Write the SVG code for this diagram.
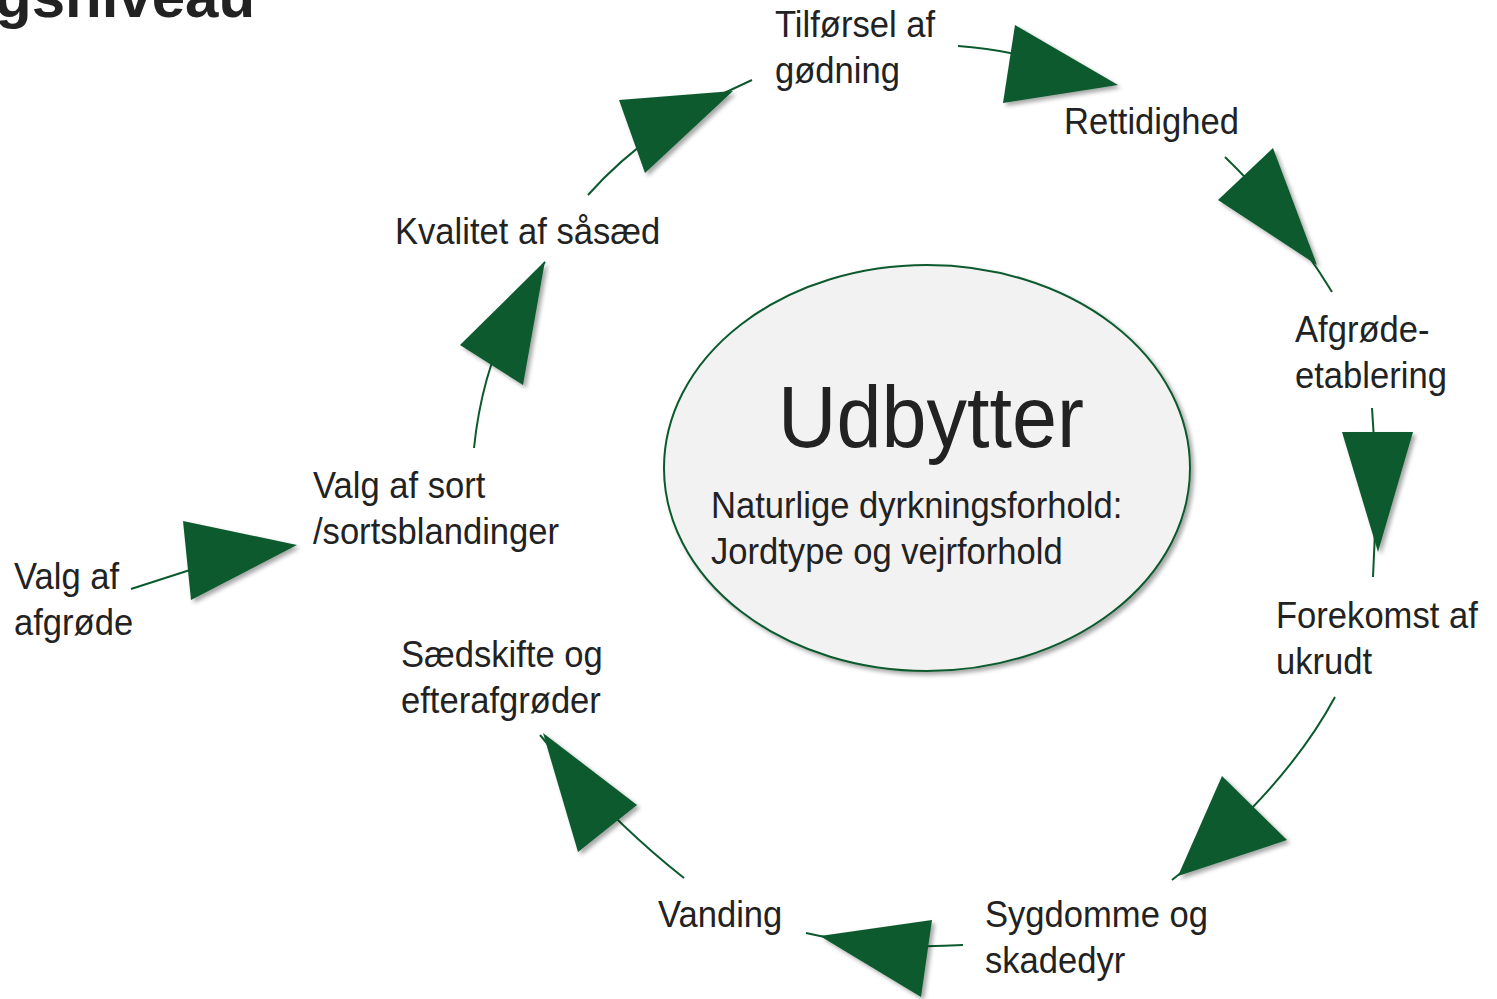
<svg xmlns="http://www.w3.org/2000/svg" width="1497" height="999" viewBox="0 0 1497 999">
<style>
.lbl{font-family:"Liberation Sans",Arial,sans-serif;font-size:37px;fill:#222}
.big{font-family:"Liberation Sans",Arial,sans-serif;font-size:88px;fill:#222}
.ttl{font-family:"Liberation Sans",Arial,sans-serif;font-size:60px;font-weight:bold;fill:#222}
.con{fill:none;stroke:#0b5a2e;stroke-width:2}
.head{fill:#0b5a2e;filter:url(#sh)}
</style>
<defs>
<filter id="sh" x="-30%" y="-30%" width="160%" height="160%">
<feDropShadow dx="3" dy="3" stdDeviation="2" flood-color="#000" flood-opacity="0.35"/>
</filter>
</defs>
<rect width="1497" height="999" fill="#fff"/>
<text class="ttl" x="-5" y="17">gsniveau</text>

<g id="center">
<ellipse cx="927" cy="468" rx="263" ry="203" fill="#f2f2f2" stroke="#0b5a2e" stroke-width="2" filter="url(#sh)"/>
<text class="big" transform="translate(778,447) scale(0.92,1)">Udbytter</text>
<text class="lbl" transform="translate(711,518) scale(0.935,1)"><tspan x="0" y="0">Naturlige dyrkningsforhold:</tspan><tspan x="0" y="46">Jordtype og vejrforhold</tspan></text>
</g>

<g id="connectors">
<path class="con" d="M588,195 Q650,125 752,80"/>
<polygon class="head" points="619,100 733,91 645,173"/>
<path class="con" d="M958,46 Q990,48 1030,57"/>
<polygon class="head" points="1015,25 1118,85 1003,103"/>
<path class="con" d="M1225,157 Q1285,215 1332,292"/>
<polygon class="head" points="1218,200 1273,148 1317,265"/>
<path class="con" d="M1372,408 Q1378,490 1373,577"/>
<polygon class="head" points="1342,432 1413,432 1378,552"/>
<path class="con" d="M1335,697 Q1285,790 1172,880"/>
<polygon class="head" points="1222,776 1287,840 1178,876"/>
<path class="con" d="M963,945 Q880,950 806,933"/>
<polygon class="head" points="932,920 921,997 820,936"/>
<path class="con" d="M684,878 Q610,820 540,735"/>
<polygon class="head" points="543,733 637,805 578,852"/>
<path class="con" d="M474,448 Q485,340 545,262"/>
<polygon class="head" points="460,345 523,385 545,261"/>
<path class="con" d="M131,589 L190,570"/>
<polygon class="head" points="183,521 297,545 191,600"/>
</g>

<g id="n-tilforsel"><text class="lbl" transform="translate(775,37) scale(0.935,1)"><tspan x="0" y="0">Tilførsel af</tspan><tspan x="0" y="46">gødning</tspan></text></g>
<g id="n-rettidighed"><text class="lbl" transform="translate(1064,134) scale(0.935,1)">Rettidighed</text></g>
<g id="n-afgrode-etablering"><text class="lbl" transform="translate(1295,342) scale(0.935,1)"><tspan x="0" y="0">Afgrøde-</tspan><tspan x="0" y="46">etablering</tspan></text></g>
<g id="n-ukrudt"><text class="lbl" transform="translate(1276,628) scale(0.935,1)"><tspan x="0" y="0">Forekomst af</tspan><tspan x="0" y="46">ukrudt</tspan></text></g>
<g id="n-sygdomme"><text class="lbl" transform="translate(985,927) scale(0.935,1)"><tspan x="0" y="0">Sygdomme og</tspan><tspan x="0" y="46">skadedyr</tspan></text></g>
<g id="n-vanding"><text class="lbl" transform="translate(658,927) scale(0.935,1)">Vanding</text></g>
<g id="n-saedskifte"><text class="lbl" transform="translate(401,667) scale(0.935,1)"><tspan x="0" y="0">Sædskifte og</tspan><tspan x="0" y="46">efterafgrøder</tspan></text></g>
<g id="n-valg-afgrode"><text class="lbl" transform="translate(14,589) scale(0.935,1)"><tspan x="0" y="0">Valg af</tspan><tspan x="0" y="46">afgrøde</tspan></text></g>
<g id="n-valg-sort"><text class="lbl" transform="translate(313,498) scale(0.935,1)"><tspan x="0" y="0">Valg af sort</tspan><tspan x="0" y="46">/sortsblandinger</tspan></text></g>
<g id="n-kvalitet"><text class="lbl" transform="translate(395,244) scale(0.935,1)">Kvalitet af såsæd</text></g>
</svg>
